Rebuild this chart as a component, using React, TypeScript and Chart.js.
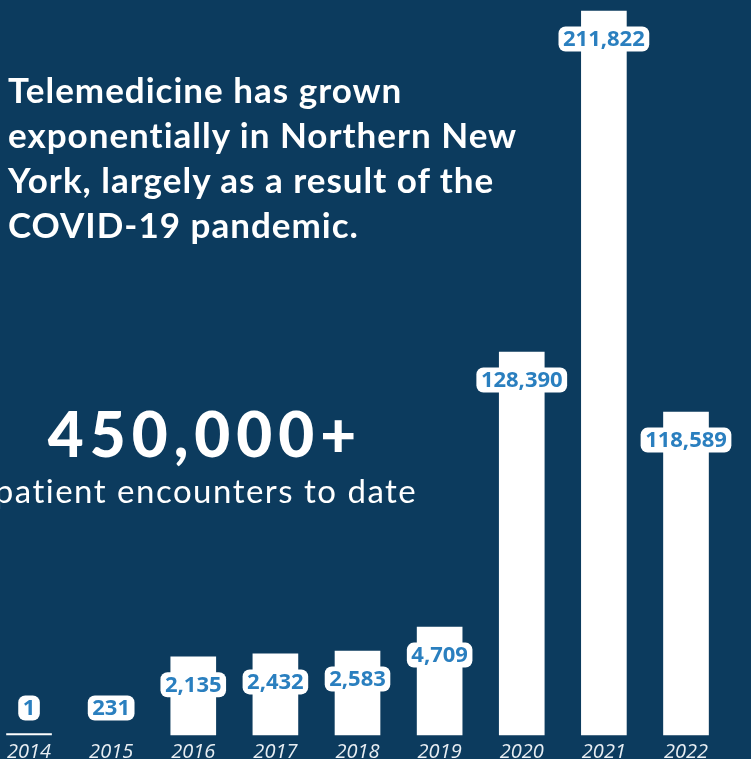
import React, { useEffect, useRef } from "react";
import { Chart, registerables } from "chart.js";

Chart.register(...registerables);

// Years shown on the x axis
const years = ["2014", "2015", "2016", "2017", "2018", "2019", "2020", "2021", "2022"];
// Reported telemedicine encounters per year (value labels)
const encounters = [1, 231, 2135, 2432, 2583, 4709, 128390, 211822, 118589];
// Visual bar height in the infographic, as % of the tallest (2021) bar (2015 shows no bar)
const barIndex: (number | null)[] = [0.2, null, 10.8, 11.2, 11.6, 14.9, 52.9, 100, 44.6];

const BG = "#0c3b5e";
const LABEL_BLUE = "#2a7fbf";

const valueLabelPlugin = {
  id: "valueLabels",
  afterDatasetsDraw(chart: any) {
    const ctx = chart.ctx as CanvasRenderingContext2D;
    const meta = chart.getDatasetMeta(0);
    const yScale = chart.scales.y;
    const base = yScale.getPixelForValue(0);
    ctx.save();
    ctx.font = "bold 22px 'Open Sans', sans-serif";
    ctx.textAlign = "center";
    ctx.textBaseline = "middle";
    meta.data.forEach((bar: any, i: number) => {
      const text = encounters[i].toLocaleString("en-US");
      const v = barIndex[i];
      const top = v == null ? base : yScale.getPixelForValue(v);
      const cx = chart.scales.x.getPixelForValue(i);
      const cy = Math.min(top + 28, base - 27);
      const w = ctx.measureText(text).width + 9;
      const h = 25;
      const x = cx - w / 2;
      const y = cy - h / 2;
      ctx.fillStyle = "#ffffff";
      ctx.beginPath();
      (ctx as any).roundRect(x, y, w, h, 7);
      ctx.fill();
      ctx.fillStyle = LABEL_BLUE;
      ctx.fillText(text, cx, cy + 1);
    });
    ctx.restore();
  },
};

export default function App() {
  const ref = useRef<HTMLCanvasElement | null>(null);
  useEffect(() => {
    document.body.style.margin = "0";
    const chart = new Chart(ref.current as HTMLCanvasElement, {
      type: "bar",
      data: {
        labels: years,
        datasets: [
          {
            data: barIndex,
            backgroundColor: "#ffffff",
            borderWidth: 0,
            barThickness: 45,
            clip: false as any,
          },
        ],
      },
      options: {
        animation: false,
        responsive: false,
        maintainAspectRatio: false,
        events: [],
        layout: { padding: { left: 21, right: 65, top: 11, bottom: 0 } },
        plugins: { legend: { display: false }, tooltip: { enabled: false } },
        scales: {
          x: {
            offset: false,
            grid: { display: false, drawTicks: false },
            border: { display: false },
            afterFit(scale: any) {
              scale.height = 24;
            },
            ticks: {
              color: "#e8eef3",
              padding: 7,
              maxRotation: 0,
              autoSkip: false,
              font: { family: "'Open Sans', sans-serif", size: 20, style: "italic", lineHeight: 1 },
            },
          },
          y: {
            display: false,
            min: 0,
            max: 100,
          },
        },
      },
      plugins: [valueLabelPlugin],
    });
    return () => chart.destroy();
  }, []);

  return (
    <div
      style={{
        position: "absolute",
        left: 0,
        top: 0,
        width: 751,
        height: 759,
        background: BG,
        overflow: "hidden",
        fontFamily: "Lato, sans-serif",
        color: "#ffffff",
        fontVariantLigatures: "none",
      }}
    >
      <canvas ref={ref} width={751} height={759} style={{ position: "absolute", left: 0, top: 0 }} />
      <div
        style={{
          position: "absolute",
          left: 8,
          top: 67,
          fontWeight: 700,
          fontSize: 35,
          lineHeight: "45px",
          letterSpacing: 1,
          whiteSpace: "nowrap",
        }}
      >
        Telemedicine has grown
        <br />
        exponentially in Northern New
        <br />
        York, largely as a result of the
        <br />
        COVID-19 pandemic.
      </div>
      <div
        style={{
          position: "absolute",
          left: 205,
          top: 403,
          transform: "translateX(-50%)",
          fontWeight: 900,
          fontSize: 62,
          lineHeight: "60px",
          letterSpacing: 6,
          whiteSpace: "nowrap",
        }}
      >
        450,000+
      </div>
      <div
        style={{
          position: "absolute",
          left: 206,
          top: 475,
          transform: "translateX(-50%)",
          fontWeight: 400,
          fontSize: 33,
          lineHeight: "31px",
          letterSpacing: 1.5,
          whiteSpace: "nowrap",
        }}
      >
        patient encounters to date
      </div>
    </div>
  );
}
